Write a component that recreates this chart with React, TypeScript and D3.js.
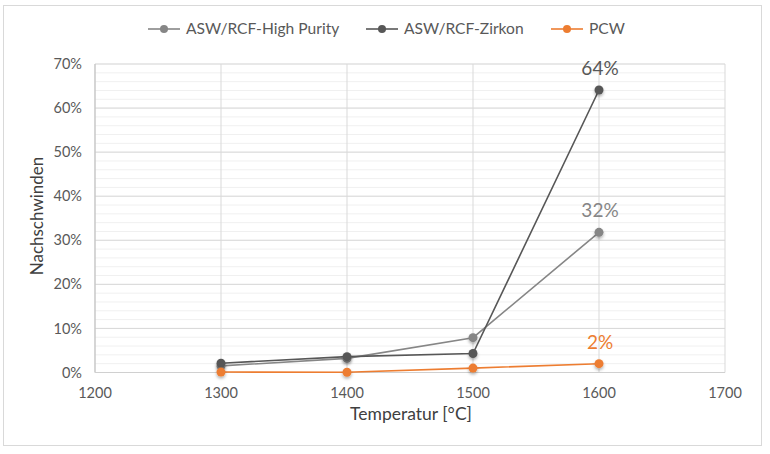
import React from "react";
import * as d3 from "d3";

const temps = [1300, 1400, 1500, 1600];
const highPurity = [0.015, 0.032, 0.079, 0.318];
const zirkon = [0.021, 0.036, 0.043, 0.641];
const pcw = [0.001, 0.0005, 0.01, 0.02];
const xTicks = [1200, 1300, 1400, 1500, 1600, 1700];
const yTicks = [0, 0.1, 0.2, 0.3, 0.4, 0.5, 0.6, 0.7];
const labels = ["32%", "64%", "2%"];

const series = [
  { name: "ASW/RCF-High Purity", values: highPurity, color: "#868686", label: labels[0] },
  { name: "ASW/RCF-Zirkon", values: zirkon, color: "#575757", label: labels[1] },
  { name: "PCW", values: pcw, color: "#ED7D31", label: labels[2] },
];

export default function App() {
  const W = 770, H = 454;
  const x = d3.scaleLinear().domain([1200, 1700]).range([95, 725]);
  const y = d3.scaleLinear().domain([0, 0.7]).range([372.5, 64]);
  const minor = d3.range(0, 0.7001, 0.02);
  const line = d3.line<number>().x((_, i) => x(temps[i])).y((d) => y(d));
  const font = "Lato, 'Open Sans', sans-serif";
  const legendX = [148, 366, 551];
  return (
    <svg width={W} height={H} style={{ position: "absolute", left: 0, top: 0 }} fontFamily={font}>
      <defs>
        <filter id="sh" x="-50%" y="-50%" width="200%" height="200%">
          <feDropShadow dx="0" dy="2" stdDeviation="1.5" floodColor="#000" floodOpacity="0.3" />
        </filter>
      </defs>
      <rect x={0} y={0} width={W} height={H} fill="#fff" />
      <rect x={3.5} y={5.5} width={758} height={440} fill="#fff" stroke="#d9d9d9" />
      {minor.map((t, i) => (
        <line key={"m" + i} x1={95} x2={725} y1={y(t)} y2={y(t)} stroke="#f0f0f0" strokeWidth={1} />
      ))}
      {yTicks.map((t) => (
        <line key={"g" + t} x1={95} x2={725} y1={y(t)} y2={y(t)} stroke="#d9d9d9" strokeWidth={1} />
      ))}
      {xTicks.map((t) => (
        <line key={"v" + t} x1={x(t)} x2={x(t)} y1={64} y2={372.5} stroke="#d9d9d9" strokeWidth={1} />
      ))}
      <line x1={95} x2={95} y1={64} y2={372.5} stroke="#bfbfbf" />
      <line x1={95} x2={725} y1={372.5} y2={372.5} stroke="#d0d0d0" />
      {yTicks.map((t) => (
        <text key={"yl" + t} x={82} y={y(t)} dy="0.35em" textAnchor="end" fontSize={14.5} fill="#595959">
          {d3.format(".0%")(t)}
        </text>
      ))}
      {xTicks.map((t) => (
        <text key={"xl" + t} x={x(t)} y={398} textAnchor="middle" fontSize={14.5} fill="#595959">
          {t}
        </text>
      ))}
      <text x={411} y={420} textAnchor="middle" fontSize={17.5} fill="#404040">
        Temperatur [°C]
      </text>
      <text transform="translate(43,216) rotate(-90)" textAnchor="middle" fontSize={17} fill="#404040">
        Nachschwinden
      </text>
      {series.map((s) => (
        <g key={s.name}>
          <path d={line(s.values) || ""} fill="none" stroke={s.color} strokeWidth={1.6} />
        </g>
      ))}
      {series.map((s) => (
        <g key={s.name + "m"} filter="url(#sh)">
          {s.values.map((v, i) => (
            <circle key={i} cx={x(temps[i])} cy={y(v)} r={4.5} fill={s.color} />
          ))}
        </g>
      ))}
      {series.map((s) => (
        <text
          key={s.name + "l"}
          x={x(temps[3]) + 1}
          y={y(s.values[3]) - 15}
          textAnchor="middle"
          fontSize={19}
          fill={s.color}
        >
          {s.label}
        </text>
      ))}
      {series.map((s, i) => (
        <g key={s.name + "lg"} transform={`translate(${legendX[i]},29)`}>
          <line x1={0} x2={32} y1={0} y2={0} stroke={s.color} strokeWidth={1.6} />
          <circle cx={16} cy={0} r={4} fill={s.color} />
          <text x={38} y={0} dy="0.35em" fontSize={15.6} fill="#595959">
            {s.name}
          </text>
        </g>
      ))}
    </svg>
  );
}
